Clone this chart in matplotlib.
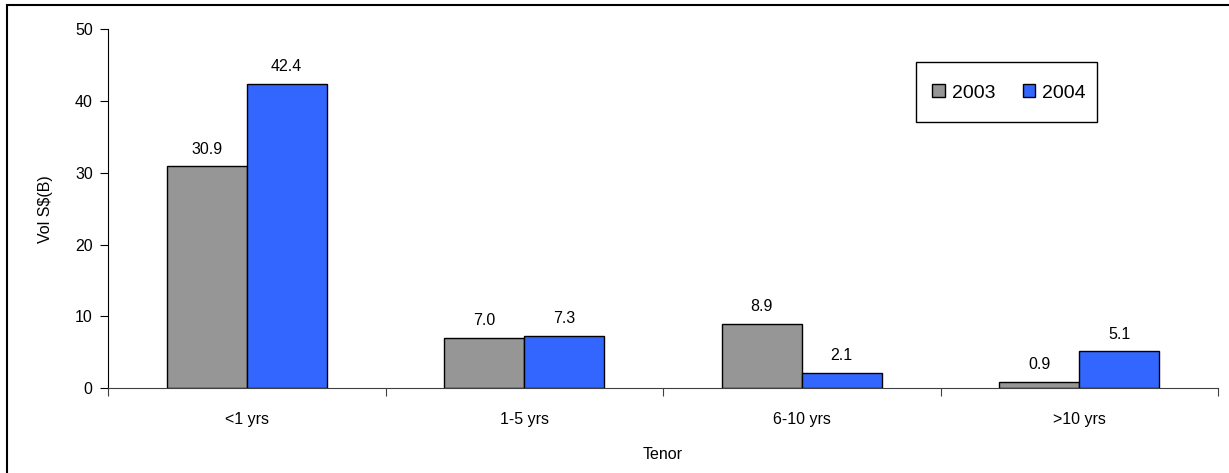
import matplotlib
matplotlib.use('Agg')
import matplotlib.pyplot as plt
import matplotlib.patches as mpatches
import numpy as np

plt.rcParams['font.family'] = ['Liberation Sans', 'DejaVu Sans']

tenors = ['<1 yrs', '1-5 yrs', '6-10 yrs', '>10 yrs']
vol_2003 = [30.9, 7.0, 8.9, 0.9]
vol_2004 = [42.4, 7.3, 2.1, 5.1]

fig = plt.figure(figsize=(12.29, 4.73), dpi=100)
ax = fig.add_axes([108/1229, 85/473, 1110/1229, 358.5/473])

x = np.arange(len(tenors)) + 0.5
w = 0.288
b1 = ax.bar(x - w/2, vol_2003, w, color='#969696', edgecolor='black', linewidth=1, label='2003')
b2 = ax.bar(x + w/2, vol_2004, w, color='#3366FF', edgecolor='black', linewidth=1, label='2004')

for bars, vals in ((b1, vol_2003), (b2, vol_2004)):
    for r, v in zip(bars, vals):
        ax.annotate(f'{v:.1f}', (r.get_x() + r.get_width()/2, v), xytext=(0, 7),
                    textcoords='offset points', ha='center', va='bottom', fontsize=11.5)

ax.set_xlim(0, 4)
ax.set_ylim(0, 50)
ax.set_yticks(range(0, 51, 10))
ax.set_xticks(range(0, 5))
ax.set_xticklabels([])
ax.set_xticks(x, minor=True)
ax.set_xticklabels(tenors, minor=True, fontsize=11.5)
ax.tick_params(axis='x', which='minor', length=0, pad=17)
ax.tick_params(axis='x', which='major', direction='out', length=6, color='#404040')
ax.tick_params(axis='y', direction='out', length=6, labelsize=11.5, pad=5)
ax.spines['top'].set_visible(False)
ax.spines['right'].set_visible(False)
ax.spines['bottom'].set_color('#404040')
ax.set_xlabel('Tenor', fontsize=11.5, labelpad=15)
ax.set_ylabel('Vol S$(B)', fontsize=11.5, labelpad=16)

# legend box drawn separately so its size matches the original
leg_box = mpatches.Rectangle((916/1229, (473-122)/473), 181/1229, 60/473, transform=fig.transFigure,
                             facecolor='white', edgecolor='black', linewidth=1, zorder=5, clip_on=False)
ax.add_patch(leg_box)
leg = ax.legend(loc='center', bbox_to_anchor=(1009/1229, (473-93)/473),
                bbox_transform=fig.transFigure,
                ncol=2, fontsize=14, frameon=False,
                handlelength=0.65, handleheight=0.65, handletextpad=0.35, columnspacing=1.4,
                borderpad=0, borderaxespad=0)
leg.set_zorder(6)

border = mpatches.Rectangle((7/1229, -0.1), 1.2, (468/473) + 0.1, transform=fig.transFigure,
                            fill=False, edgecolor='black', linewidth=1.5, clip_on=False)
fig.patches.append(border)

fig.savefig('out.png', dpi=100)
